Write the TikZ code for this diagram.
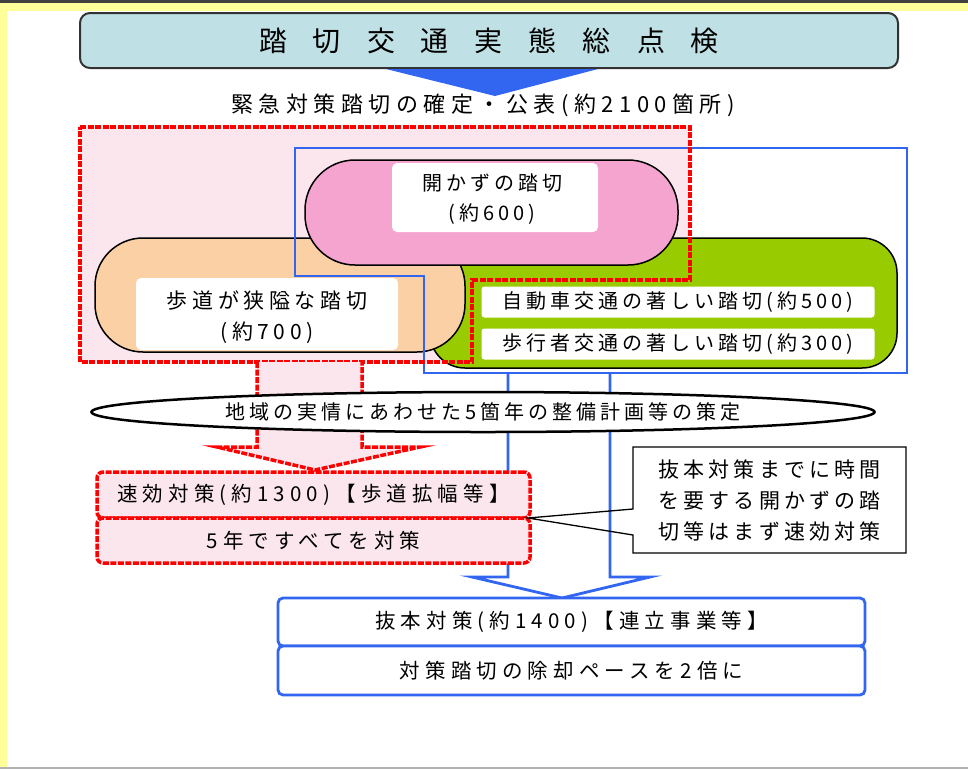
\documentclass[tikz,border=0pt]{standalone}
\usepackage{fontspec}
\setmainfont{Noto Sans CJK JP}
\usetikzlibrary{shapes.geometric}
\definecolor{bgyellow}{HTML}{FFFF99}
\definecolor{titlefill}{HTML}{BFE0E4}
\definecolor{tblue}{HTML}{3366F0}
\definecolor{lpink}{HTML}{FBE6EE}
\definecolor{pillpink}{HTML}{F5A3CF}
\definecolor{pillorange}{HTML}{FAD0A4}
\definecolor{pillgreen}{HTML}{99CC00}
\definecolor{tred}{HTML}{FF0000}
\newcommand{\jt}[3]{\fontsize{#1}{#2}\selectfont\addfontfeatures{LetterSpace=#3}}
\tikzset{
  txt/.style={inner sep=0pt, align=center, font=\jt{20}{30}{20}},
  widetxt/.style={font=\jt{20.5}{30}{25}},
  reddash/.style={draw=tred, line width=3.5pt, dash pattern=on 6pt off 1.5pt},
  blueline/.style={draw=tblue, line width=2.8pt},
  pill/.style={draw=black, line width=1.5pt},
  label/.style={fill=white, rounded corners=3pt},
}
\begin{document}
\begin{tikzpicture}[x=1pt,y=-1pt]
\useasboundingbox (0,0) rectangle (968,769);
% background
\fill[bgyellow] (0,0) rectangle (968,769);
\fill[white] (7,11) rectangle (968,767);
\fill[black!75] (0,0) rectangle (968,3);
\fill[black!30] (0,767) rectangle (968,769);
% title
\node[draw=black!80, line width=2pt, fill=titlefill, rounded corners=10pt,
      minimum width=818pt, minimum height=55pt, inner sep=0pt,
      font=\fontsize{28}{28}\selectfont] (title) at (489,40.5)
  {踏\hspace{26pt}切\hspace{26pt}交\hspace{26pt}通\hspace{26pt}実\hspace{26pt}態\hspace{26pt}総\hspace{26pt}点\hspace{26pt}検};
\node[txt, font=\jt{22}{22}{25}] (kinkyu) at (483,105) {緊急対策踏切の確定・公表(約2100箇所)};
\fill[tblue] (386,69) -- (598,69) -- (495,96) -- cycle;
% red region fill
\fill[lpink] (80,127) -- (690,127) -- (690,280) -- (472,280) -- (472,362) -- (80,362) -- cycle;
% green pill
\filldraw[pill, fill=pillgreen, rounded corners=35pt] (430,238) rectangle (897,368);
% orange pill
\filldraw[pill, fill=pillorange, rounded corners=48pt] (95,238) rectangle (465,352);
\fill[white, rounded corners=5pt] (136,278) rectangle (398,350);
\node[txt, font=\jt{21}{31}{22}] (hodo) at (267,317) {歩道が狭隘な踏切\\(約700)};
% pink pill
\filldraw[pill, fill=pillpink, rounded corners=50pt] (305,160) rectangle (678,265);
\fill[white, rounded corners=5pt] (392,163) rectangle (598,232);
\node[txt] (akazu) at (492,199) {開かずの踏切\\(約600)};
% green labels
\node[txt, label, minimum width=393pt, minimum height=31pt] (jidosha) at (678,302) {自動車交通の著しい踏切(約500)};
\node[txt, label, minimum width=393pt, minimum height=31pt] (hokosha) at (678,344) {歩行者交通の著しい踏切(約300)};
% blue outline
\draw[blueline] (295,148) -- (907,148) -- (907,373) -- (424,373) -- (424,276) -- (295,276) -- cycle;
% red outline
\draw[reddash] (80,127) -- (690,127) -- (690,280) -- (472,280) -- (472,362) -- (80,362) -- cycle;
% red block arrow
\fill[lpink] (257,362) -- (257,447) -- (217,447) -- (315,470) -- (420,447) -- (362,447) -- (362,362) -- cycle;
\draw[reddash] (257,362) -- (257,447) -- (217,447) -- (315,470) -- (420,447) -- (362,447) -- (362,362);
% blue block arrow
\draw[blueline] (508,373) -- (508,577) -- (472,577) -- (562,598) -- (650,577) -- (610,577) -- (610,373);
% ellipse
\node[ellipse, draw=black, fill=white, line width=2.5pt, minimum width=783pt, minimum height=40pt,
      inner sep=0pt, txt] (plan) at (483,412) {地域の実情にあわせた5箇年の整備計画等の策定};
% red boxes
\node[txt, widetxt, fill=lpink, reddash, rounded corners=6pt, minimum width=433pt, minimum height=46pt] (sokko) at (313.5,495) {速効対策(約1300)【歩道拡幅等】};
\node[txt, widetxt, fill=lpink, reddash, rounded corners=6pt, minimum width=433pt, minimum height=45pt] (gonen) at (313.5,540.5) {5年ですべてを対策};
% blue boxes
\node[txt, widetxt, fill=white, blueline, rounded corners=5pt, minimum width=587pt, minimum height=48pt] (bappon) at (571.5,622) {抜本対策(約1400)【連立事業等】};
\node[txt, widetxt, fill=white, blueline, rounded corners=5pt, minimum width=587pt, minimum height=49pt] (baizo) at (571.5,670.5) {対策踏切の除却ペースを2倍に};
% callout
\fill[white] (633,447) rectangle (906,553);
\node[txt, font=\jt{21}{31}{20}] (note) at (769.5,501) {抜本対策までに時間\\を要する開かずの踏\\切等はまず速効対策};
\draw[black, line width=1.3pt] (633,509) -- (633,447) -- (906,447) -- (906,553) -- (633,553) -- (633,535) -- (528,518) -- cycle;
\end{tikzpicture}
\end{document}
